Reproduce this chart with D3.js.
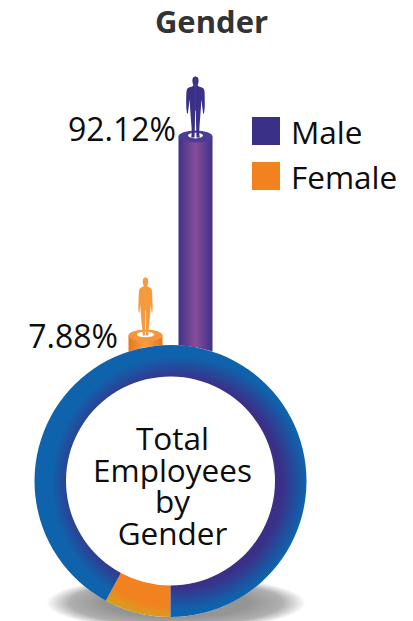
<!DOCTYPE html>
<html>
<head>
<meta charset="utf-8">
<script src="https://cdn.jsdelivr.net/npm/d3@7"></script>
<style>
  html, body { margin: 0; padding: 0; background: #fff; }
  text { font-family: "Open Sans", sans-serif; fill: #0d0d0d; }
</style>
</head>
<body>
<div id="chart"></div>
<script>
const categories = ['Female', 'Male'];
const shares = [7.88, 92.12];
const labels = ['7.88%', '92.12%'];
const colors = ['#f28120', '#3b3088'];
const legendItems = ['Male', 'Female'];
const centerLines = ['Total', 'Employees', 'by', 'Gender'];

const width = 413;
const height = 621;
const cx = 170.5;
const cy = 481;
const outer = 136;
const inner = 104.5;

const svg = d3.select('#chart')
    .append('svg')
    .attr('width', width)
    .attr('height', height)
    .style('display', 'block');

const defs = svg.append('defs');

function barGradient(id, stops) {
    let g = defs.append('linearGradient').attr('id', id);
    stops.forEach((c, i) => g.append('stop')
        .attr('offset', i / (stops.length - 1))
        .attr('stop-color', c));
}
barGradient('barMale', ['#3f3289', '#874d98', '#3f3289']);
barGradient('barFemale', ['#ea751a', '#f7a04a', '#ea751a']);

// both ring gradients sit in the ring group's coordinates, a bit off centre
function ringGradient(id, stops) {
    let g = defs.append('radialGradient')
        .attr('id', id)
        .attr('gradientUnits', 'userSpaceOnUse')
        .attr('cx', 8).attr('cy', 2).attr('r', 140);
    stops.forEach(s => g.append('stop')
        .attr('offset', s[0])
        .attr('stop-color', s[1]));
}
ringGradient('ring', [[0.74, '#3b3088'], [0.91, '#0f63ad']]);
ringGradient('slice', [[0.88, '#f28120'], [1, '#cfa51f']]);

const shadowGrad = defs.append('radialGradient').attr('id', 'shadow');
shadowGrad.append('stop').attr('offset', 0.55).attr('stop-color', '#959595');
shadowGrad.append('stop').attr('offset', 0.82).attr('stop-color', '#b0b0b0');
shadowGrad.append('stop').attr('offset', 1).attr('stop-color', '#fff');

svg.append('text')
    .attr('x', 211.5).attr('y', 33)
    .attr('text-anchor', 'middle')
    .style('font-size', '31px')
    .style('font-weight', 700)
    .style('fill', '#333')
    .text('Gender');

// shadow under the ring
svg.append('ellipse')
    .attr('cx', 176).attr('cy', 603)
    .attr('rx', 130).attr('ry', 27)
    .attr('fill', 'url(#shadow)');

// cylinders
const y = d3.scaleLinear().domain([0, 100]).range([354, 118]);
const x = d3.scaleBand().domain(categories).range([128.5, 212.5]).paddingInner(0.32);

// right half of each figure, drawn twice and mirrored
const figures = {
    Male: 'M-0.3,-60 L0,-60 C2.8,-60 3.4,-57 3,-54.5 C2.8,-52.8 2.2,-52 2.2,-51 C2.6,-49.6 7,-49.6 8.4,-47.5 C9.5,-45 9.2,-38 9.3,-33 C9.4,-29 9,-26 8.4,-23 L7.6,-23 C7,-28 6.4,-33 5.9,-37 L5.6,-33 C5.4,-27 4.6,-18 4,-10 C3.6,-5 3.8,-1 4.4,1 L1,1 L0.6,-12 L0.3,-26 L-0.3,-26 Z',
    Female: 'M-0.3,-58 L0,-58 C2.4,-58 3,-55 2.6,-52.5 C2.4,-51 1.8,-50.5 1.8,-49.5 C2.2,-48.5 5.2,-48 6,-46.5 C6.8,-44 6.8,-38 7,-33 C7.2,-29 7.2,-26 6.8,-23 L6,-23 C5.8,-26 5.4,-29 5.2,-31 C5,-26 4.4,-17 3.4,-9 C3,-5 2.6,-2 2.8,0 L0.6,0 L0.3,-25 L-0.3,-25 Z'
};

const bars = svg.selectAll('g.bar')
    .data(categories)
    .enter()
    .append('g')
    .attr('class', 'bar')
    .attr('transform', d => 'translate(' + (x(d) + x.bandwidth() / 2) + ',0)');

bars.append('rect')
    .attr('x', -x.bandwidth() / 2)
    .attr('width', x.bandwidth())
    .attr('y', (d, i) => y(shares[i]))
    .attr('height', (d, i) => y(0) - y(shares[i]))
    .attr('fill', (d, i) => i ? 'url(#barMale)' : 'url(#barFemale)');

bars.append('ellipse')
    .attr('cy', (d, i) => y(shares[i]))
    .attr('rx', x.bandwidth() / 2)
    .attr('ry', 6)
    .attr('fill', (d, i) => i ? '#4d3d92' : '#f6963a');

bars.append('ellipse')
    .attr('cy', (d, i) => y(shares[i]) - 1)
    .attr('rx', (d, i) => i ? 7.5 : 8.7)
    .attr('ry', 2.8)
    .attr('fill', '#fff');

[1, -1].forEach(side => {
    bars.append('path')
        .attr('transform', (d, i) => 'translate(0,' + y(shares[i]) + ') scale(' + side + ',1)')
        .attr('d', d => figures[d])
        .attr('fill', (d, i) => i ? colors[i] : '#f59a3c');
});

// value labels
svg.selectAll('text.value')
    .data(labels)
    .enter()
    .append('text')
    .attr('class', 'value')
    .attr('text-anchor', 'end')
    .attr('x', (d, i) => i ? 176 : 118)
    .attr('y', (d, i) => i ? 141 : 348)
    .style('font-size', '32px')
    .text(d => d);

// ring
const pie = d3.pie().sort(null).value(d => d);
const arc = d3.arc().innerRadius(inner).outerRadius(outer);
const ring = svg.append('g').attr('transform', 'translate(' + cx + ',' + cy + ')');
ring.append('circle').attr('r', outer).attr('fill', '#fff');

// starts at six o'clock, female slice first
const slices = pie.startAngle(Math.PI).endAngle(3 * Math.PI)(shares);
ring.selectAll('path')
    .data(slices)
    .enter()
    .append('path')
    .attr('d', arc)
    .attr('fill', (d, i) => i ? 'url(#ring)' : 'url(#slice)');

svg.append('g')
    .selectAll('text')
    .data(centerLines)
    .enter()
    .append('text')
    .attr('x', 172.5)
    .attr('y', (d, i) => 450 + i * 31.7)
    .attr('text-anchor', 'middle')
    .style('font-size', '31.5px')
    .text(d => d);

// legend
const legend = svg.selectAll('g.legend')
    .data(legendItems)
    .enter()
    .append('g')
    .attr('class', 'legend')
    .attr('transform', (d, i) => 'translate(252,' + (117 + i * 45) + ')');

legend.append('rect')
    .attr('width', 28)
    .attr('height', 28)
    .attr('fill', d => colors[categories.indexOf(d)]);

legend.append('text')
    .attr('x', 39)
    .attr('y', 27)
    .style('font-size', '31.5px')
    .text(d => d);
</script>
</body>
</html>
